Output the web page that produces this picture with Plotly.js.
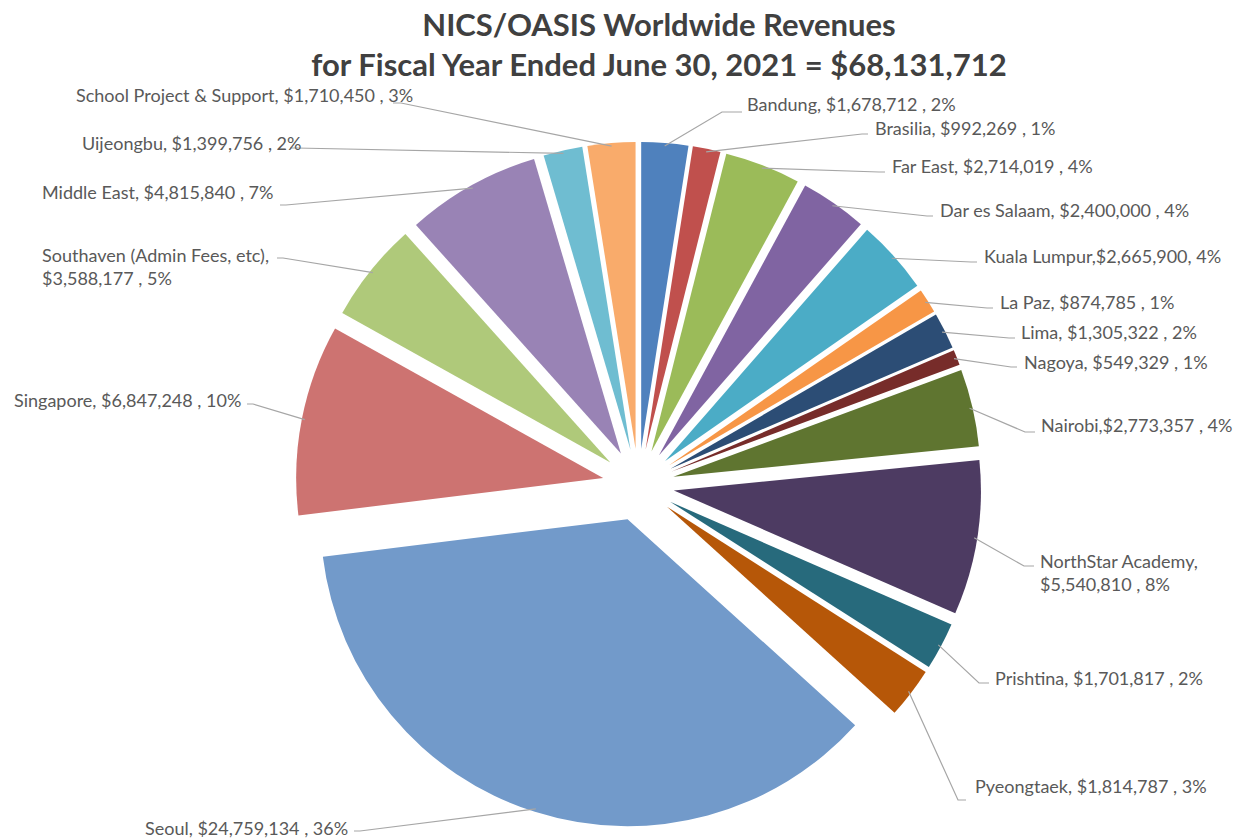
<!DOCTYPE html>
<html>
<head>
<meta charset="utf-8">
<script src="https://cdn.plot.ly/plotly-3.0.1.min.js"></script>
<style>html,body{margin:0;padding:0;background:#fff;}#chart{width:1248px;height:839px;}</style>
</head>
<body>
<div id="chart"></div>
<script>
// ---- data ----
const regions = ["Bandung","Brasilia","Far East","Dar es Salaam","Kuala Lumpur","La Paz","Lima","Nagoya","Nairobi","NorthStar Academy","Prishtina","Pyeongtaek","Seoul","Singapore","Southaven (Admin Fees, etc)","Middle East","Uijeongbu","School Project & Support"];
const revenues = [1678712,992269,2714019,2400000,2665900,874785,1305322,549329,2773357,5540810,1701817,1814787,24759134,6847248,3588177,4815840,1399756,1710450];
const labelTemplates = ["{n}, {v} , {p}","{n}, {v} , {p}","{n}, {v} , {p}","{n}, {v} , {p}","{n},{v}, {p}","{n}, {v} , {p}","{n}, {v} , {p}","{n}, {v} , {p}","{n},{v} , {p}","{n},<br>{v} , {p}","{n}, {v} , {p}","{n}, {v} , {p}","{n}, {v} , {p}","{n}, {v} , {p}","{n},<br>{v} , {p}","{n}, {v} , {p}","{n}, {v} , {p}","{n}, {v} , {p}"];
const titleText = "NICS/OASIS Worldwide Revenues<br>for Fiscal Year Ended June 30, 2021 = $68,131,712";

// ---- styles / layout ----
const colors = ["#4F81BD","#C0504D","#9BBB59","#8064A2","#4BACC6","#F79646","#2C4D75","#772C2A","#5F7530","#4D3B62","#276A7C","#B65708","#729ACA","#CD7371","#AFC97A","#9983B5","#6FBDD1","#F9AB6B"];
const W = 1248, H = 839;
const CX = 638.4, CY = 484.9, R = 307, PULL = 0.117;
// label text anchor positions (pixels) and leader-line attach points
const labelX = [745,873,890,938,982,998,1019,1022,1039,1038,993,973,350,243,40,275,303,415];
const labelY = [104,128,166,210,256,302,332,362,425,572,678,786,828,400,266,192,143,95];
const labelAnchor = ["left","left","left","left","left","left","left","left","left","left","left","left","right","right","left","right","right","right"];
const lineX = [742,868,885,933,977,993,1015,1017,1035,1034,989,966,354,247,277,280,290,393];
const lineY = [112,134,172,216,262,308,338,367,432,566,683,800,831,404,258,205,148,103];
const elbow = [20,6,6,6,6,6,6,6,10,10,10,8,6,6,6,6,6,8];
const labelFont = {family: "Lato, 'Open Sans', sans-serif", size: 18, color: "#595959"};

const fmtMoney = v => "$" + v.toLocaleString("en-US");
const total = revenues.reduce((a,b)=>a+b,0);

const px = x => x / W;
const py = y => 1 - y / H;

const annotations = [];
const shapes = [];
let cum = 0;
revenues.forEach((v,i) => {
  const mid = (cum + v/2) / total * 2*Math.PI;
  cum += v;
  const sx = Math.sin(mid), sy = -Math.cos(mid);
  const ox = CX + PULL*R*sx, oy = CY + PULL*R*sy;
  const ex = ox + (R-3)*sx, ey = oy + (R-3)*sy;
  const pct = Math.round(v/total*100) + "%";
  const txt = labelTemplates[i].replace("{n}", regions[i]).replace("{v}", fmtMoney(v)).replace("{p}", pct);
  const isRight = lineX[i] > CX;
  const bx = isRight ? lineX[i] - elbow[i] : lineX[i] + elbow[i];
  shapes.push({
    type: "path", xref: "paper", yref: "paper",
    path: `M ${px(ex)},${py(ey)} L ${px(bx)},${py(lineY[i])} L ${px(lineX[i])},${py(lineY[i])}`,
    line: {color: "#A6A6A6", width: 1.2}
  });
  annotations.push({
    xref: "paper", yref: "paper", x: px(labelX[i]), y: py(labelY[i]),
    xanchor: labelAnchor[i], yanchor: "middle", align: "left",
    text: txt, showarrow: false,
    font: labelFont
  });
});

const half = R * (1 + PULL);
const trace = {
  type: "pie",
  labels: regions,
  values: revenues,
  sort: false,
  direction: "clockwise",
  rotation: 0,
  pull: PULL,
  textinfo: "none",
  hoverinfo: "label+value+percent",
  marker: {colors: colors, line: {width: 0}},
  domain: {x: [(CX-half)/W, (CX+half)/W], y: [1-(CY+half)/H, 1-(CY-half)/H]},
  showlegend: false
};

const layout = {
  width: W, height: H,
  margin: {l:0, r:0, t:0, b:0},
  paper_bgcolor: "#ffffff",
  showlegend: false,
  title: {
    text: titleText,
    x: 659/W, xanchor: "center", xref: "paper",
    y: 1 - 36/H, yanchor: "top", yref: "paper",
    font: {family: "Lato, 'Open Sans', sans-serif", size: 31, color: "#404040", weight: "bold"}
  },
  annotations: annotations,
  shapes: shapes
};

Plotly.newPlot("chart", [trace], layout, {displayModeBar: false, staticPlot: true});
</script>
</body>
</html>
